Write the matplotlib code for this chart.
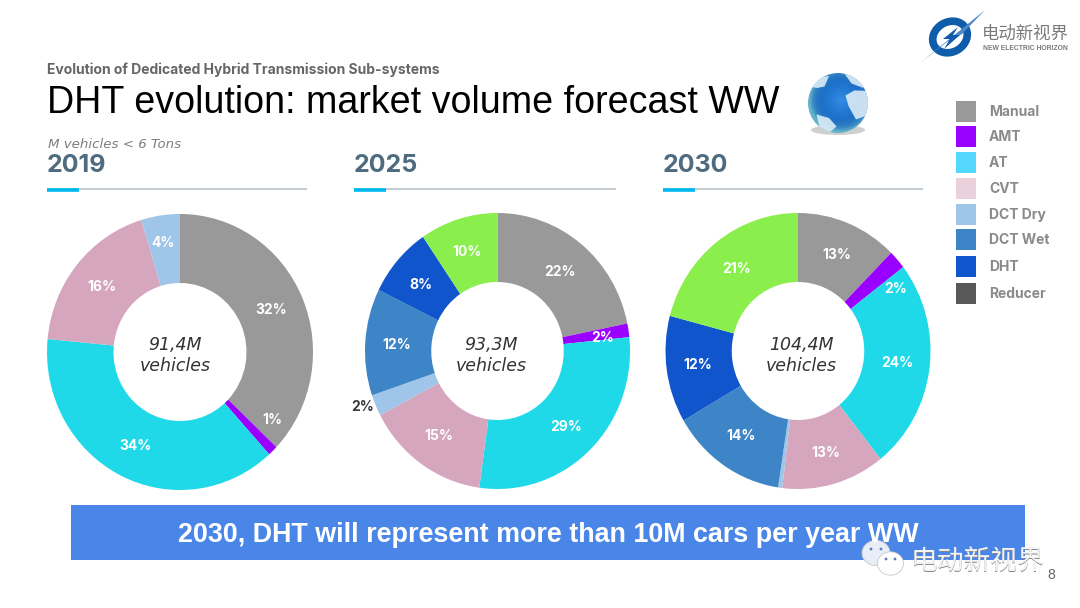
"""Recreates the DHT market volume forecast slide: three donuts plus the slide furniture."""
import matplotlib
matplotlib.use("Agg")
import matplotlib.pyplot as plt
import matplotlib.patches as patches
import numpy as np

W, H = 1080, 608

CATEGORIES = ["Manual", "AMT", "AT", "CVT", "DCT Dry", "DCT Wet", "DHT", "Reducer"]
LEGEND_COLORS = ["#999999", "#9900ff", "#55d8fe", "#ead1dc", "#9fc5e8", "#3d85c6", "#1155cc", "#595959"]

YEARS = ["2019", "2025", "2030"]
TOTALS = ["91,4M", "93,3M", "104,4M"]

# slice shares as measured on the picture, labels as printed on it
SLICES_2019 = [37.1, 1.2, 38.2, 18.8, 4.7]
LABELS_2019 = ["32%", "1%", "34%", "16%", "4%"]
COLORS_2019 = ["#999999", "#9900ff", "#20d9e8", "#d5a6bd", "#9fc5e8"]

SLICES_2025 = [21.8, 1.6, 28.8, 15.1, 2.5, 12.5, 8.2, 9.5]
LABELS_2025 = ["22%", "2%", "29%", "15%", "2%", "12%", "8%", "10%"]
COLORS_2025 = ["#999999", "#9900ff", "#20d9e8", "#d5a6bd", "#9fc5e8", "#3d85c6", "#1155cc", "#8aee4c"]

SLICES_2030 = [12.4, 2.2, 24.7, 12.6, 0.5, 14.2, 12.5, 20.9]
LABELS_2030 = ["13%", "2%", "24%", "13%", "", "14%", "12%", "21%"]
COLORS_2030 = COLORS_2025

# label anchors in slide pixels
XY_2019 = [(271, 310), (272, 420), (136, 446), (102, 287), (163, 243)]
XY_2025 = [(560, 272), (603, 338), (566, 427), (439, 436), (363, 407), (397, 345), (421, 285), (467, 252)]
XY_2030 = [(837, 255), (896, 289), (897, 363), (826, 453), (0, 0), (741, 436), (698, 365), (737, 269)]

MONT = ["Inter", "DejaVu Sans"]
ITAL = ["DejaVu Sans"]
ARIAL = ["Liberation Sans", "DejaVu Sans"]
CJK = ["Noto Sans CJK SC", "DejaVu Sans"]

fig = plt.figure(figsize=(W / 100, H / 100), dpi=100, facecolor="white")


def add_donut(cx, cy, rx, ry, shares, colors):
    ax = fig.add_axes([(cx - rx) / W, 1 - (cy + ry) / H, 2 * rx / W, 2 * ry / H])
    ax.pie(shares, colors=colors, startangle=90, counterclock=False, radius=1,
           wedgeprops=dict(width=0.5, linewidth=0))
    ax.set_aspect("auto")
    ax.set_xlim(-1, 1)
    ax.set_ylim(-1, 1)
    ax.axis("off")


add_donut(180, 352, 133, 138, SLICES_2019, COLORS_2019)
add_donut(497.5, 351, 132.5, 138, SLICES_2025, COLORS_2025)
add_donut(798, 351, 132.5, 138, SLICES_2030, COLORS_2030)

# ── Overlay in slide pixels ──────────────────────────────────────────────────
ov = fig.add_axes([0, 0, 1, 1], zorder=5)
ov.set_xlim(0, W)
ov.set_ylim(H, 0)
ov.axis("off")
ov.patch.set_alpha(0)

ov.text(47, 70, "Evolution of Dedicated Hybrid Transmission Sub-systems", family=MONT,
        fontsize=10, fontweight="bold", color="#666666", va="center")
ov.text(47, 103, "DHT evolution: market volume forecast WW", family=ARIAL,
        fontsize=27.1, color="#000000", va="center")
ov.text(48, 144, "M vehicles < 6 Tons", family=ITAL, fontsize=9.6, style="italic",
        color="#7f7f7f", va="center")

# year headers with their rules
for year, x0, x1 in zip(YEARS, (47, 354, 663), (307, 616, 923)):
    ov.text(x0, 165, year, family=MONT, fontsize=18, fontweight="bold",
            color="#4f6b7f", va="center")
    ov.plot([x0, x1], [189, 189], color="#b7c2ca", lw=1.2, solid_capstyle="butt")
    ov.plot([x0, x0 + 32], [189.5, 189.5], color="#00b8f0", lw=2.6, solid_capstyle="butt")

# donut labels
for labels, xys in ((LABELS_2019, XY_2019), (LABELS_2025, XY_2025), (LABELS_2030, XY_2030)):
    for lab, (x, y) in zip(labels, xys):
        dark = (x, y) == (363, 407)
        ov.text(x, y, lab, family=MONT, fontsize=10, fontweight="bold", ha="center", va="center",
                color="#3a3a3a" if dark else "#ffffff")

# donut centres
for total, cx in zip(TOTALS, (175, 491, 801)):
    ov.text(cx, 345, total, family=ITAL, fontsize=12.5, style="italic", color="#333333",
            ha="center", va="center")
    ov.text(cx, 366, "vehicles", family=ITAL, fontsize=12.5, style="italic", color="#333333",
            ha="center", va="center")

# legend
for name, color, y in zip(CATEGORIES, LEGEND_COLORS, (101, 126, 152, 178, 204, 229, 256, 283)):
    ov.add_patch(patches.Rectangle((956, y), 20, 20.5, facecolor=color, edgecolor="none"))
    ov.text(989, y + 11, name, family=MONT, fontsize=10, fontweight="bold", color="#8a8a8a", va="center")

# banner
ov.add_patch(patches.Rectangle((71, 505), 954, 55, facecolor="#4a86e8", edgecolor="none"))
ov.text(548, 535, "2030, DHT will represent more than 10M cars per year WW", family=ARIAL,
        fontsize=19.4, fontweight="bold", color="white", ha="center", va="center")

# watermark
for (x, y, r, fc) in ((876, 553, 14, "#e8eef8"), (890.5, 563.5, 13, "#ffffff")):
    ov.add_patch(patches.Ellipse((x, y), 2 * r, 1.8 * r, facecolor=fc, edgecolor="#c8c8c8", lw=0.6))
for (x, y) in ((871, 549), (881, 549), (886, 559), (895, 559)):
    ov.add_patch(patches.Circle((x, y), 1.4, facecolor="#5a7fb5", edgecolor="none"))
ov.text(978, 563, "电动新视界", family=CJK, fontsize=19.3, color="#8a8a8a", ha="center", va="center")
ov.text(978, 562, "电动新视界", family=CJK, fontsize=19.3, color="#f4f4f4", ha="center", va="center")
ov.text(1051, 575, "8", family=ARIAL, fontsize=10, color="#666666", ha="center", va="center")

# logo
ov.add_patch(patches.Ellipse((950, 37), 36, 30, angle=-30, facecolor="none", edgecolor="#0f5cab", lw=5.5))
ov.add_patch(patches.Polygon([(920, 63), (985, 10), (962, 34), (947, 42)], facecolor="#4c88c9", edgecolor="none"))
ov.add_patch(patches.Polygon([(958, 27), (943, 39), (950, 39), (944, 49), (960, 35), (953, 35)],
                             facecolor="#0f5cab", edgecolor="none"))
ov.text(1025, 34, "电动新视界", family=CJK, fontsize=12.5, color="#7a7a7a", ha="center", va="center")
ov.text(1025, 49, "NEW ELECTRIC HORIZON", family=ARIAL, fontsize=4.9, fontweight="bold",
        color="#7a7a7a", ha="center", va="center")

# globe: soft shadow, shaded sphere, pale land masses
ov.add_patch(patches.Ellipse((838, 130), 54, 10, facecolor="#a0a0a0", edgecolor="none", alpha=0.5))
gx = fig.add_axes([808 / W, 1 - 133 / H, 60 / W, 60 / H], zorder=6)
yy, xx = np.mgrid[-1:1:120j, -1:1:120j]
shade = np.clip(np.hypot(xx - 0.1, yy - 0.1) / 1.05, 0, 1)
rgb = np.dstack([0.20 - 0.16 * shade + 0.35 * shade ** 6,
                 0.55 - 0.20 * shade + 0.35 * shade ** 6,
                 0.90 - 0.20 * shade + 0.10 * shade ** 6])
im = gx.imshow(np.clip(rgb, 0, 1), extent=(-1, 1, -1, 1), origin="lower")
clip = patches.Circle((0, 0), 1, transform=gx.transData)
im.set_clip_path(clip)
LAND = [
    [(0.25, 0.25), (0.55, 0.42), (1.0, 0.4), (1.0, -0.4), (0.6, -0.55), (0.35, -0.1)],
    [(-0.72, -0.38), (-0.3, -0.5), (-0.05, -0.78), (-0.3, -1.0), (-0.6, -0.85)],
    [(-0.75, 0.85), (-0.3, 0.9), (-0.45, 0.55), (-0.7, 0.5), (-0.95, 0.55)],
    [(0.2, 1.0), (0.7, 0.85), (0.85, 0.5), (0.45, 0.65)],
]
for pts in LAND:
    land = patches.Polygon(pts, facecolor="#dcecf8", edgecolor="none", alpha=0.9)
    gx.add_patch(land)
    land.set_clip_path(clip)
gx.set_xlim(-1, 1)
gx.set_ylim(-1, 1)
gx.axis("off")

fig.savefig("out.png", dpi=100)
plt.close(fig)
